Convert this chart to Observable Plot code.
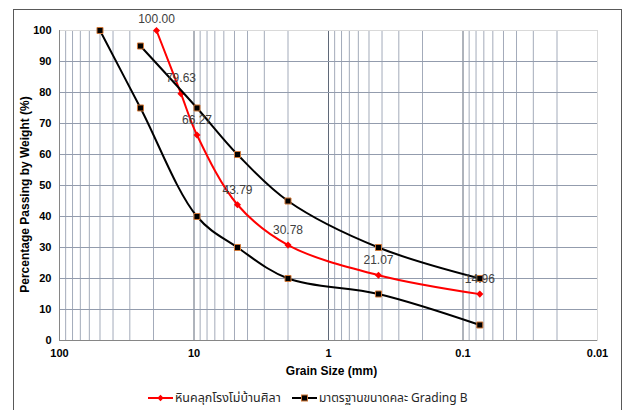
<!DOCTYPE html>
<html>
<head>
<meta charset="utf-8">
<script src="https://cdn.jsdelivr.net/npm/d3@7"></script>
<script src="https://cdn.jsdelivr.net/npm/@observablehq/plot@0.6"></script>
<style>
  html, body { margin: 0; padding: 0; background: #fff; }
  #wrap { position: relative; width: 624px; height: 410px; overflow: hidden; background: #fff; font-family: "Liberation Sans", Arial, sans-serif; }
  #border { position: absolute; left: 13px; top: 9px; width: 609px; height: 420px; border: 1px solid #595959; box-sizing: border-box; }
  #chart { position: absolute; left: 0; top: 0; }
  #legend { position: absolute; left: 0; top: 388px; width: 624px; height: 20px; font-size: 12px; color: #262626; font-family: "Tahoma", "Leelawadee UI", "Noto Sans Thai", "Loma", "Garuda", "Noto Sans", "Liberation Sans", sans-serif; }
  .item { position: absolute; top: 0; display: flex; align-items: center; height: 20px; white-space: nowrap; }
  .item svg { margin-right: 2px; }
  .wide { font-size: 12.5px; }
</style>
</head>
<body>
<div id="wrap">
  <div id="border"></div>
  <div id="chart"></div>
  <div id="legend"></div>
</div>
<script>
// Sample: crushed rock from Ban Sila quarry
const sampleName = "หินคลุกโรงโม่บ้านศิลา";
const sampleSizes = [19, 12.5, 9.5, 4.75, 2.0, 0.425, 0.075];
const samplePassing = [100.00, 79.63, 66.27, 43.79, 30.78, 21.07, 14.96];

// Standard Grading B limits
const limitName = "มาตรฐานขนาดคละ Grading B";
const lowerSizes = [50, 25, 9.5, 4.75, 2.0, 0.425, 0.075];
const lowerPassing = [100, 75, 40, 30, 20, 15, 5];
const upperSizes = [25, 9.5, 4.75, 2.0, 0.425, 0.075];
const upperPassing = [95, 75, 60, 45, 30, 20];

const xTicks = [100, 10, 1, 0.1, 0.01];
const yTicks = [0, 10, 20, 30, 40, 50, 60, 70, 80, 90, 100];
const xTitle = "Grain Size (mm)";
const yTitle = "Percentage Passing by Weight (%)";

const sample = sampleSizes.map((s, i) => ({size: s, pass: samplePassing[i]}));
const limits = [
  ...lowerSizes.map((s, i) => ({size: s, pass: lowerPassing[i], band: "lower"})),
  ...upperSizes.map((s, i) => ({size: s, pass: upperPassing[i], band: "upper"}))
];

// log grid lines 1..9 x 10^k
const minorGrid = [];
const majorGrid = [];
for (let k = -2; k <= 1; k++) {
  for (let m = 1; m <= 9; m++) {
    const v = +(m * Math.pow(10, k)).toPrecision(3);
    if (m === 1) majorGrid.push(v); else minorGrid.push(v);
  }
}
majorGrid.push(100);

const chart = Plot.plot({
  width: 624,
  height: 385,
  marginLeft: 59,
  marginRight: 27,
  marginTop: 30,
  marginBottom: 45,
  style: {fontFamily: '"Liberation Sans", Arial, sans-serif', fontSize: "11px", background: "transparent", color: "#000"},
  x: {type: "log", domain: [100, 0.01]},
  y: {domain: [0, 100]},
  marks: [
    Plot.ruleX(minorGrid, {stroke: "#a3abba", strokeWidth: 1}),
    Plot.ruleX(majorGrid, {stroke: "#5f6878", strokeWidth: 1}),
    Plot.ruleY(yTicks, {stroke: "#939cad", strokeWidth: 1}),
    Plot.frame({stroke: "#d9d9d9"}),
    Plot.ruleY([0], {stroke: "#868686"}),
    Plot.ruleX([100], {stroke: "#868686"}),
    Plot.axisX({ticks: xTicks, tickFormat: d => String(d), tickSize: 0, tickPadding: 9, fontWeight: "bold", fontSize: 11, label: null}),
    Plot.axisY({ticks: yTicks, tickSize: 0, tickPadding: 8, fontWeight: "bold", fontSize: 11, label: null}),
    Plot.text([xTitle], {frameAnchor: "bottom", textAnchor: "middle", lineAnchor: "middle", dy: 31, dx: 3, fontWeight: "bold", fontSize: 12, fill: "#000"}),
    Plot.text([yTitle], {frameAnchor: "left", textAnchor: "middle", lineAnchor: "middle", rotate: -90, dx: -34, dy: 9, fontWeight: "bold", fontSize: 12, fill: "#000"}),
    Plot.line(sample, {x: "size", y: "pass", stroke: "#ff0000", strokeWidth: 2, curve: "catmull-rom"}),
    Plot.dot(sample, {x: "size", y: "pass", symbol: "diamond2", r: 3.2, fill: "#ff0000", stroke: "none"}),
    Plot.line(limits, {x: "size", y: "pass", z: "band", stroke: "#000", strokeWidth: 2, curve: "catmull-rom"}),
    Plot.dot(limits, {x: "size", y: "pass", symbol: "square", r: 3.4, fill: "#000", stroke: "#d07838", strokeWidth: 1}),
    Plot.text(sample, {filter: d => d.pass < 100, x: "size", y: "pass", text: d => d.pass.toFixed(2), dy: -15, fontSize: 12, fill: "#404040"}),
    Plot.text(sample, {filter: d => d.pass >= 100, x: "size", y: "pass", text: d => d.pass.toFixed(2), dy: -11, fontSize: 12, fill: "#404040"})
  ]
});
document.getElementById("chart").appendChild(chart);

// Legend
const legend = document.getElementById("legend");
function swatch(color, kind) {
  const ns = "http://www.w3.org/2000/svg";
  const s = document.createElementNS(ns, "svg");
  s.setAttribute("width", 25); s.setAttribute("height", 10);
  const l = document.createElementNS(ns, "line");
  l.setAttribute("x1", 0); l.setAttribute("x2", 25); l.setAttribute("y1", 5); l.setAttribute("y2", 5);
  l.setAttribute("stroke", color); l.setAttribute("stroke-width", 2);
  s.appendChild(l);
  if (kind === "diamond") {
    const p = document.createElementNS(ns, "path");
    p.setAttribute("d", "M12.5,1.8L15.7,5L12.5,8.2L9.3,5Z");
    p.setAttribute("fill", color);
    s.appendChild(p);
  } else {
    const r = document.createElementNS(ns, "rect");
    r.setAttribute("x", 9.5); r.setAttribute("y", 2); r.setAttribute("width", 6); r.setAttribute("height", 6);
    r.setAttribute("fill", "#000"); r.setAttribute("stroke", "#d07838"); r.setAttribute("stroke-width", 1);
    s.appendChild(r);
  }
  return s;
}
const items = [
  {name: sampleName, color: "#ff0000", kind: "diamond", left: 148, cls: "wide"},
  {name: limitName, color: "#000", kind: "square", left: 292, cls: ""}
];
for (const it of items) {
  const d = document.createElement("div");
  d.className = "item";
  d.style.left = it.left + "px";
  d.appendChild(swatch(it.color, it.kind));
  const t = document.createElement("span");
  t.textContent = it.name;
  if (it.cls) t.className = it.cls;
  d.appendChild(t);
  legend.appendChild(d);
}
</script>
</body>
</html>
